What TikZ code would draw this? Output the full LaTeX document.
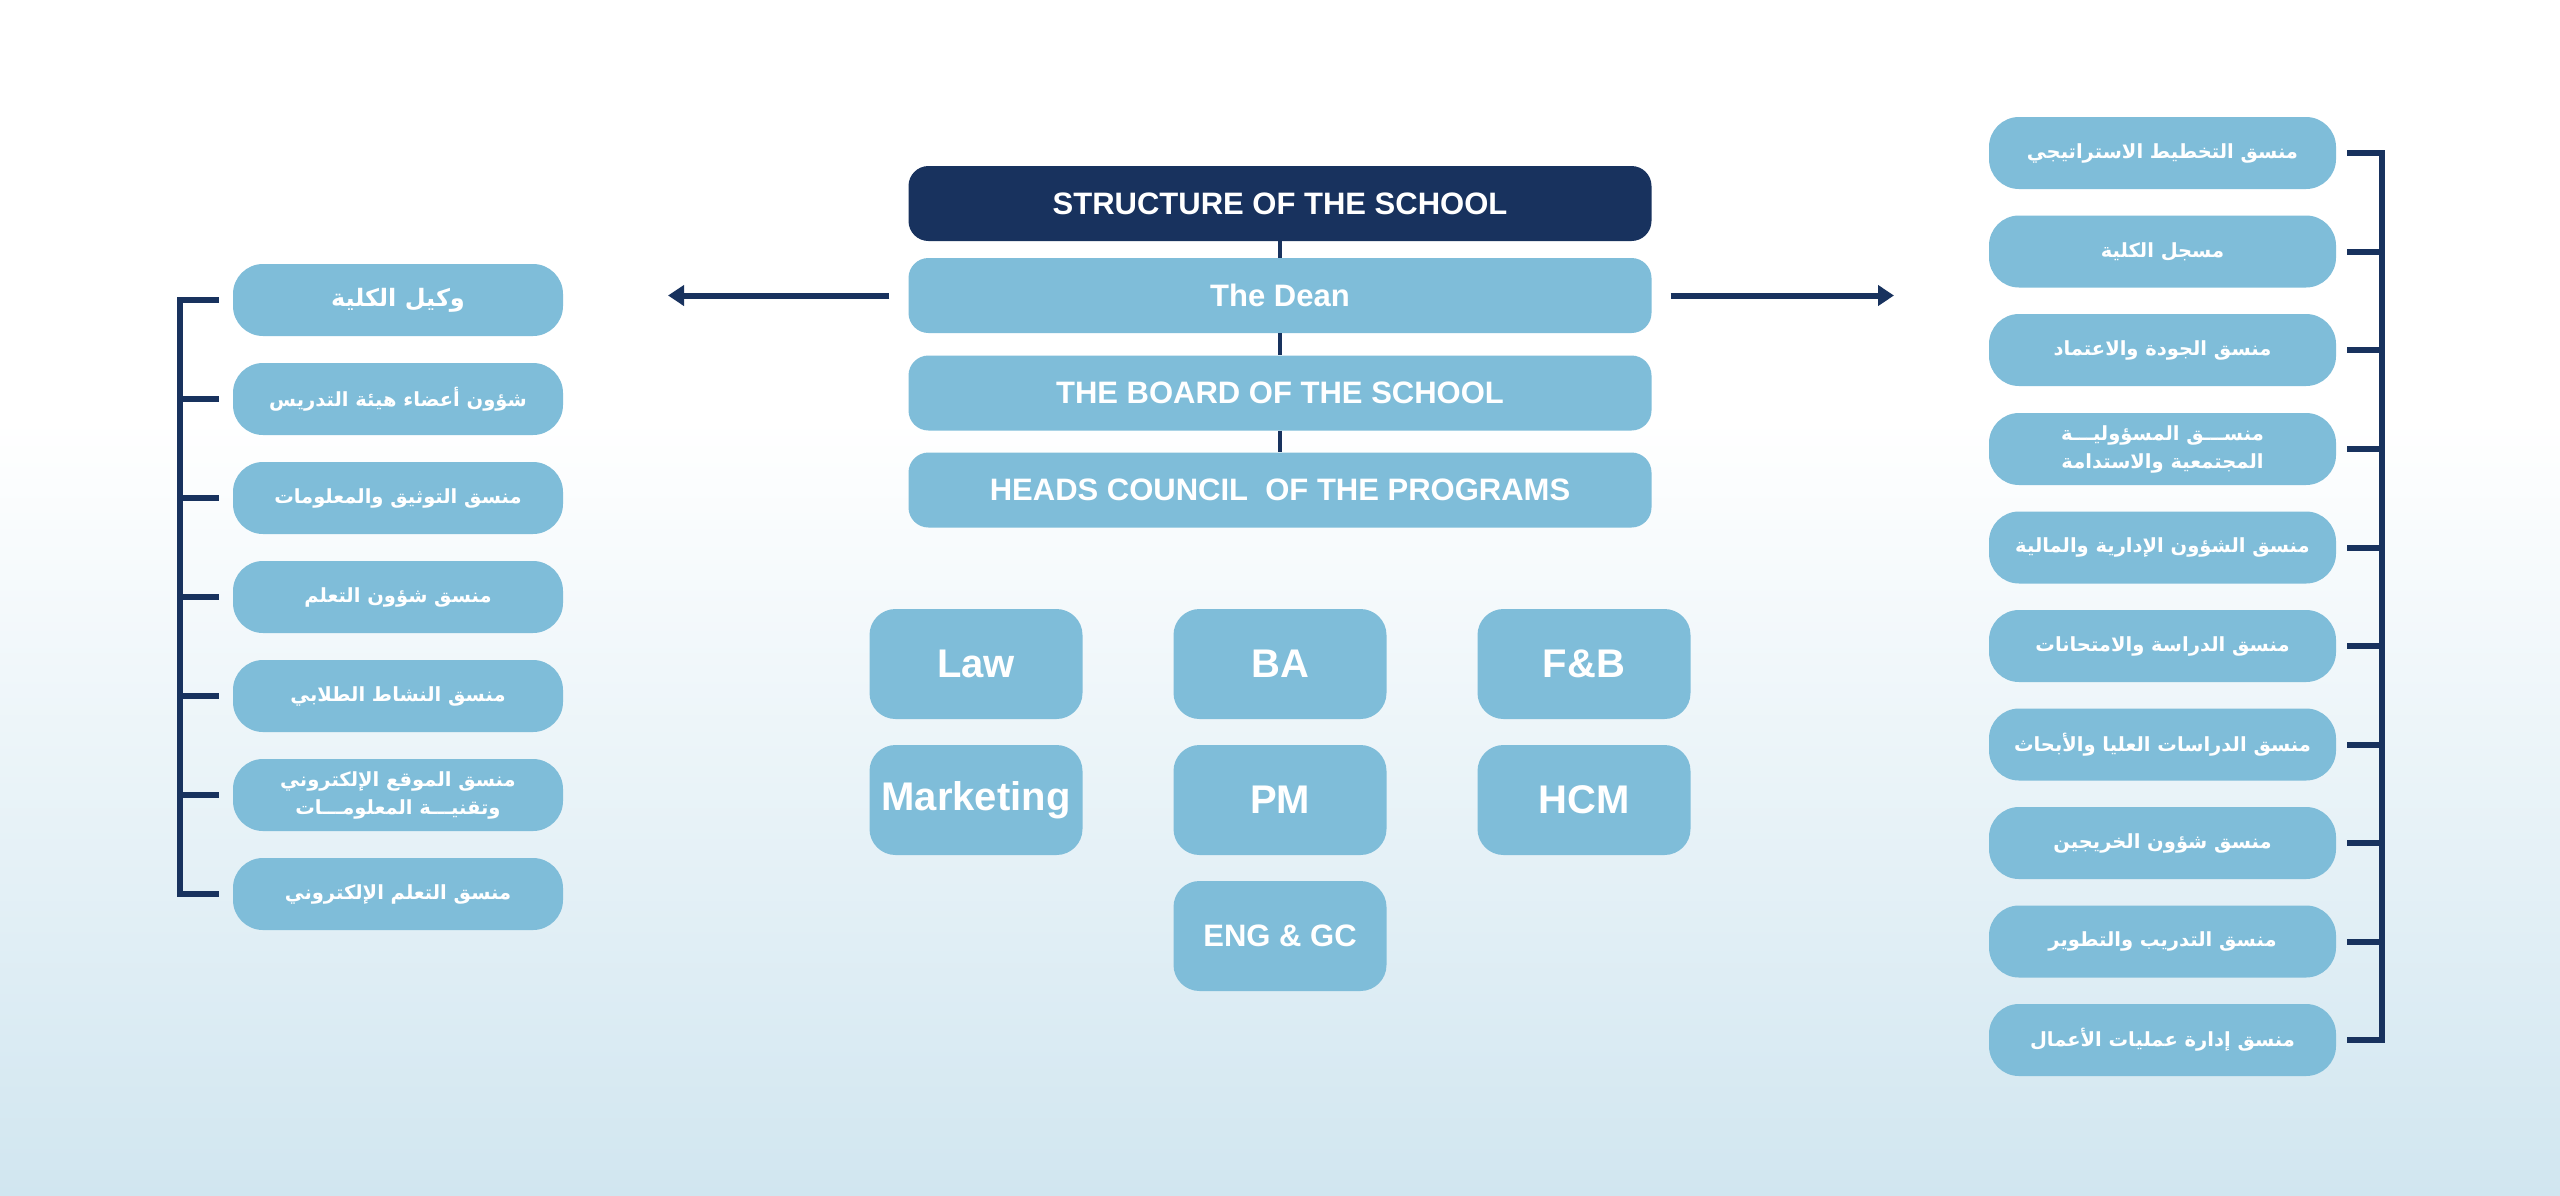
\documentclass[tikz,border=0pt]{standalone}
\usepackage{fontspec}
\setmainfont{Liberation Sans}
\newfontfamily\arabicfont[Script=Arabic]{DejaVu Sans}
\TeXXeTstate=1
\usetikzlibrary{arrows.meta}
\definecolor{navy}{RGB}{24,50,94}
\definecolor{lblue}{RGB}{127,189,217}
\definecolor{bgbot}{RGB}{209,230,240}
\newcommand\artxt[1]{{\arabicfont\bfseries\beginR #1\endR}}
\begin{document}
\begin{tikzpicture}[x=1pt,y=-1pt]
\tikzset{
  cbox/.style={fill=lblue, rounded corners=20pt, minimum width=743pt, minimum height=75pt, inner sep=0pt, text=white, font=\fontsize{31}{37}\selectfont\bfseries},
  sbox/.style={fill=lblue, rounded corners=30pt, minimum height=72pt, inner sep=0pt, text=white, align=center, font=\fontsize{19.5}{28}\selectfont},
  lbox/.style={sbox, minimum width=330pt},
  rbox/.style={sbox, minimum width=347pt},
  pbox/.style={fill=lblue, rounded corners=26pt, minimum width=213pt, minimum height=110pt, inner sep=0pt, text=white, font=\fontsize{40}{48}\selectfont\bfseries},
  link/.style={draw=navy, line width=6pt},
  vlink/.style={draw=navy, line width=4pt},
  arr/.style={link, -{Triangle[length=16pt,width=20pt]}, shorten <=19pt},
}
\useasboundingbox (0,0) rectangle (2560,1195);
\fill[white] (0,0) rectangle (2560,1195);
\shade[top color=white, bottom color=bgbot] (0,420) rectangle (2560,1195);

% centre column
\node[cbox, fill=navy] (S) at (1280,203.5) {STRUCTURE OF THE SCHOOL};
\node[cbox] (D) at (1280,295.5) {The Dean};
\node[cbox] (B) at (1280,393) {THE BOARD OF THE SCHOOL};
\node[cbox] (H) at (1280,490) {HEADS COUNCIL\ \ OF THE PROGRAMS};
\draw[vlink] (S.south) -- (D.north);
\draw[vlink] (D.south) -- (B.north);
\draw[vlink] (B.south) -- (H.north);

% arrows
\coordinate (LT) at (668,295.5);
\coordinate (RT) at (1894,295.5);
\draw[arr] (D.west) -- (LT);
\draw[arr] (D.east) -- (RT);

% programmes
\node[pbox] (P1) at (976,664) {Law};
\node[pbox] (P2) at (1280,664) {BA};
\node[pbox] (P3) at (1584,664) {F\&B};
\node[pbox] (P4) at (976,800) {Marketing};
\node[pbox] (P5) at (1280,800) {PM};
\node[pbox] (P6) at (1584,800) {HCM};
\node[pbox, font=\fontsize{31}{37}\selectfont\bfseries] (P7) at (1280,936) {ENG \& GC};

% left column
\node[lbox, font=\fontsize{24}{30}\selectfont] (L1) at (398,300) {\artxt{وكيل الكلية}};
\node[lbox] (L2) at (398,399) {\artxt{شؤون أعضاء هيئة التدريس}};
\node[lbox] (L3) at (398,498) {\artxt{منسق التوثيق والمعلومات}};
\node[lbox] (L4) at (398,597) {\artxt{منسق شؤون التعلم}};
\node[lbox] (L5) at (398,696) {\artxt{منسق النشاط الطلابي}};
\node[lbox, font=\fontsize{19.5}{28}\selectfont] (L6) at (398,795) {\artxt{منسق الموقع الإلكتروني}\\\artxt{وتقنيـــة المعلومـــات}};
\node[lbox] (L7) at (398,894) {\artxt{منسق التعلم الإلكتروني}};
\coordinate (lbar) at (180,0);
\draw[link] ([xshift=-14pt]L1.west) -- (L1.west -| lbar) -- (L7.west -| lbar) -- ([xshift=-14pt]L7.west);
\foreach \i in {2,...,6} \draw[link, shorten <=14pt] (L\i.west) -- (L\i.west -| lbar);

% right column
\node[rbox] (R1) at (2162.5,153) {\artxt{منسق التخطيط الاستراتيجي}};
\node[rbox] (R2) at (2162.5,251.5) {\artxt{مسجل الكلية}};
\node[rbox] (R3) at (2162.5,350) {\artxt{منسق الجودة والاعتماد}};
\node[rbox, font=\fontsize{19.5}{28}\selectfont] (R4) at (2162.5,449) {\artxt{منســـق المسؤوليـــة}\\\artxt{المجتمعية والاستدامة}};
\node[rbox] (R5) at (2162.5,547.5) {\artxt{منسق الشؤون الإدارية والمالية}};
\node[rbox] (R6) at (2162.5,646) {\artxt{منسق الدراسة والامتحانات}};
\node[rbox] (R7) at (2162.5,744.5) {\artxt{منسق الدراسات العليا والأبحاث}};
\node[rbox] (R8) at (2162.5,843) {\artxt{منسق شؤون الخريجين}};
\node[rbox] (R9) at (2162.5,941.5) {\artxt{منسق التدريب والتطوير}};
\node[rbox] (R10) at (2162.5,1040) {\artxt{منسق إدارة عمليات الأعمال}};
\coordinate (rbar) at (2382,0);
\draw[link] ([xshift=11pt]R1.east) -- (R1.east -| rbar) -- (R10.east -| rbar) -- ([xshift=11pt]R10.east);
\foreach \i in {2,...,9} \draw[link, shorten <=11pt] (R\i.east) -- (R\i.east -| rbar);
\end{tikzpicture}
\end{document}
